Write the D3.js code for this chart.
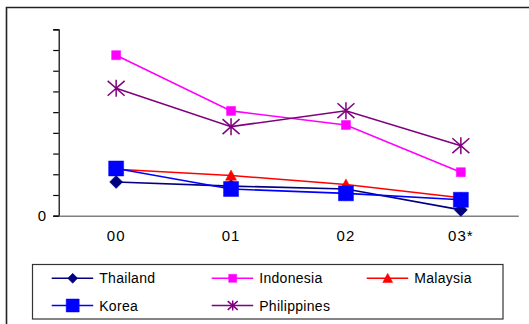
<!DOCTYPE html>
<html>
<head>
<meta charset="utf-8">
<script src="https://cdn.jsdelivr.net/npm/d3@7"></script>
<style>
  html, body { margin: 0; padding: 0; background: #fff; }
  svg { display: block; font-family: "Liberation Sans", Arial, sans-serif; }
</style>
</head>
<body>
<svg id="chart" width="529" height="324"></svg>
<script>
// Years on the category axis
const years = ["00", "01", "02", "03*"];

// Series values, one list per country
const thailand    = [1.63, 1.43, 1.29, 0.28];
const indonesia   = [7.75, 5.06, 4.38, 2.10];
const malaysia    = [2.24, 1.94, 1.51, 0.87];
const korea       = [2.28, 1.29, 1.08, 0.77];
const philippines = [6.15, 4.30, 5.07, 3.38];

// Value axis: only the zero tick carries a label
const yTicks = [0, 1, 2, 3, 4, 5, 6, 7, 8, 9];
const yTickLabels = ["0", "", "", "", "", "", "", "", "", ""];

const series = [
  { name: "Thailand",    values: thailand,    color: "#000080", marker: "diamond",  size: 13, legendSize: 10 },
  { name: "Indonesia",   values: indonesia,   color: "#FF00FF", marker: "square",   size: 9,  legendSize: 8 },
  { name: "Malaysia",    values: malaysia,    color: "#FF0000", marker: "triangle", size: 11, legendSize: 10 },
  { name: "Korea",       values: korea,       color: "#0000FF", marker: "square",   size: 15, legendSize: 13 },
  { name: "Philippines", values: philippines, color: "#800080", marker: "star",     size: 17, legendSize: 10 }
];

const svg = d3.select("#chart");

// Outer chart frame (top and left edges)
svg.append("path")
  .attr("d", "M6.5,324 V7.5 H529")
  .attr("fill", "none")
  .attr("stroke", "#222")
  .attr("stroke-width", 1.6);

const plot = { left: 58.7, right: 518.3, top: 29.3, bottom: 215.7 };

const x = d3.scaleBand().domain(years).range([plot.left, plot.right]);
const y = d3.scaleLinear().domain([0, 9]).range([plot.bottom, plot.top]);
const cx = d => x(d) + x.bandwidth() / 2;

// Value axis
const yAxis = d3.axisLeft(y)
  .tickValues(yTicks)
  .tickSize(5.5)
  .tickPadding(7)
  .tickFormat((d, i) => yTickLabels[i]);
const gy = svg.append("g").attr("transform", `translate(${plot.left},0)`).call(yAxis);
gy.select(".domain").attr("stroke", "#000").attr("stroke-width", 1.2);
gy.selectAll(".tick line").attr("stroke", "#000").attr("stroke-width", 1.2);
gy.selectAll(".tick text").attr("font-size", 15).attr("fill", "#000")
  .attr("font-family", "Liberation Sans, Arial, sans-serif");

// Category axis
const xAxis = d3.axisBottom(x).tickSize(0).tickPadding(15);
const gx = svg.append("g").attr("transform", `translate(0,${plot.bottom})`).call(xAxis);
gx.select(".domain").attr("stroke", "#808080").attr("stroke-width", 1.6);
gx.selectAll(".tick text").attr("font-size", 15).attr("fill", "#000")
  .attr("letter-spacing", 1)
  .attr("font-family", "Liberation Sans, Arial, sans-serif");

// Marker shapes
function markerPath(type, s) {
  const h = s / 2;
  switch (type) {
    case "diamond":  return `M0,${-h}L${h},0L0,${h}L${-h},0Z`;
    case "square":   return `M${-h},${-h}H${h}V${h}H${-h}Z`;
    case "triangle": return `M0,${-h}L${h},${h * 0.85}L${-h},${h * 0.85}Z`;
    case "star": {
      const v = h * 0.88;
      return `M${-h},${-v}L${h},${v}M${-h},${v}L${h},${-v}M0,${-h}V${h}`;
    }
  }
}
function drawMarker(g, type, s, color) {
  const p = g.append("path").attr("d", markerPath(type, s));
  if (type === "star") {
    p.attr("fill", "none").attr("stroke", color).attr("stroke-width", 1.5);
  } else {
    p.attr("fill", color).attr("stroke", color).attr("stroke-width", 0.5);
  }
}

const line = d3.line().x((d, i) => cx(years[i])).y(d => y(d));

// Lines and markers, one series at a time
series.forEach(s => {
  const g = svg.append("g");
  g.append("path")
    .attr("d", line(s.values))
    .attr("fill", "none")
    .attr("stroke", s.color)
    .attr("stroke-width", 1.6);
  s.values.forEach((v, i) => {
    const m = g.append("g").attr("transform", `translate(${cx(years[i])},${y(v)})`);
    drawMarker(m, s.marker, s.size, s.color);
  });
});

// Legend
const legend = svg.append("g");
legend.append("rect")
  .attr("x", 32.5).attr("y", 264.5)
  .attr("width", 470.5).attr("height", 54.5)
  .attr("fill", "#fff")
  .attr("stroke", "#333")
  .attr("stroke-width", 1.2);

const legendCols = [51.7, 211.7, 366.7];
const legendRows = [278.3, 305.5];
series.forEach((s, i) => {
  const col = i % 3, row = Math.floor(i / 3);
  const lx = legendCols[col], ly = legendRows[row];
  const item = legend.append("g").attr("transform", `translate(${lx},${ly})`);
  item.append("line")
    .attr("x1", 0).attr("x2", 41.5)
    .attr("y1", 0).attr("y2", 0)
    .attr("stroke", s.color).attr("stroke-width", 1.6);
  const m = item.append("g").attr("transform", "translate(21,0)");
  drawMarker(m, s.marker, s.legendSize, s.color);
  item.append("text")
    .attr("x", 47.5).attr("y", 0)
    .attr("dy", "0.36em")
    .attr("font-size", 14)
    .attr("letter-spacing", 0.3)
    .attr("fill", "#000")
    .text(s.name);
});
</script>
</body>
</html>
